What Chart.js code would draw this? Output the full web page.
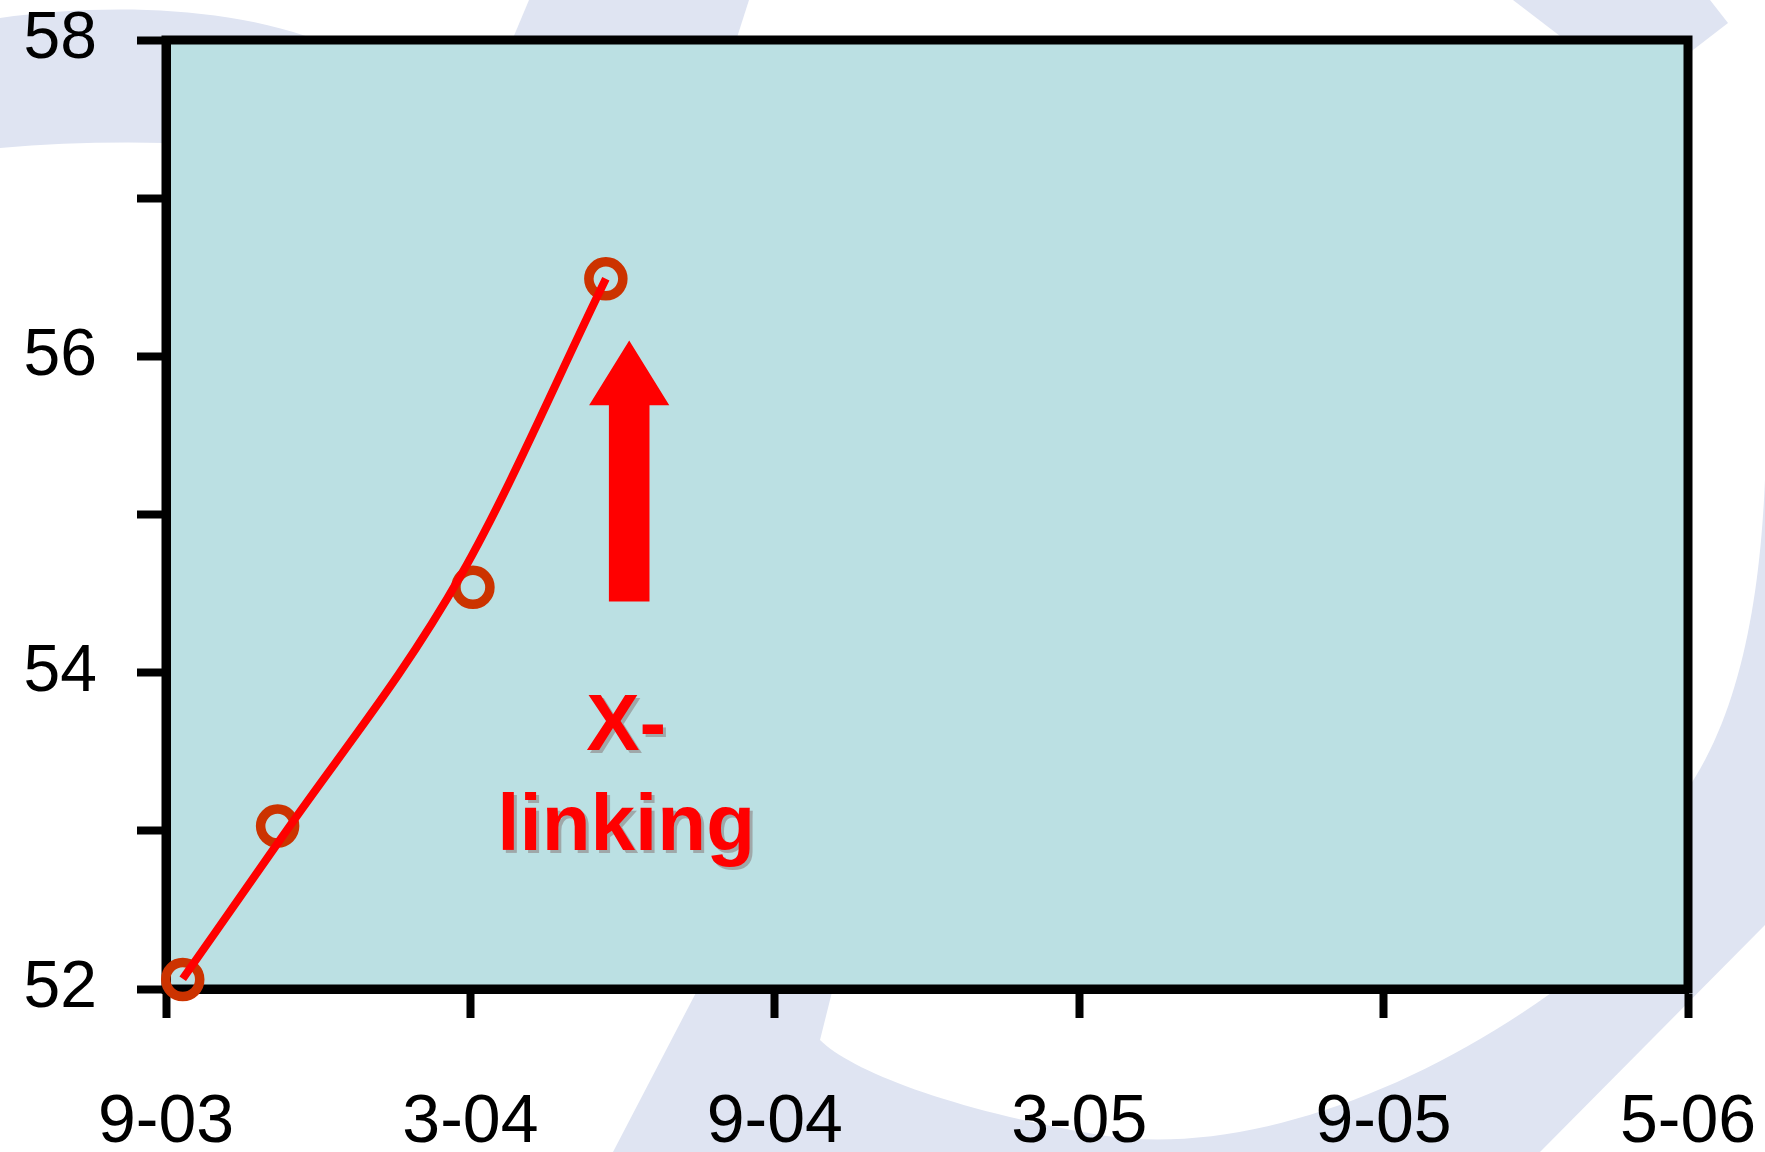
<!DOCTYPE html>
<html>
<head>
<meta charset="utf-8">
<script src="https://cdn.jsdelivr.net/npm/chart.js@4.4.1/dist/chart.umd.min.js"></script>
<style>
  html, body { margin: 0; padding: 0; background: #ffffff; overflow: hidden; }
  #wrap { width: 1765px; height: 1152px; position: relative; }
</style>
</head>
<body>
<div id="wrap"><canvas id="c" width="1765" height="1152"></canvas></div>
<script>
// Measured samples: months after September 2003, and the measured value
const sampleMonths = [0.33, 2.2, 6.05, 8.67];
const sampleValues = [52.06, 53.03, 54.54, 56.49];

// Smoothed trend curve drawn through the samples
const trendMonths = [0.33, 2.22, 5.82, 8.67];
const trendValues = [52.065, 52.93, 54.62, 56.49];

// Axis ticks
const xTickMonths = [0, 6, 12, 18, 24, 30];
const xTickLabels = ['9-03', '3-04', '9-04', '3-05', '9-05', '5-06'];
const yTickValues = [52, 54, 56, 58];

// Callout text
const calloutLines = ['X-', 'linking'];

const FONT = '"Liberation Sans", Arial, Helvetica, sans-serif';

// Callout placement, in axis units
const callout = {
  arrowMonth: 9.13, tip: 56.1, headBase: 55.69, tail: 54.45,
  headHalf: 0.79, shaftHalf: 0.40,
  textMonth: 9.07, baselines: [53.51, 52.88]
};

// Page backdrop: lavender swirl and the plot fill
const backdrop = {
  id: 'backdrop',
  beforeDraw(chart) {
    const ctx = chart.ctx;
    const W = chart.width, H = chart.height;
    const a = chart.chartArea;
    ctx.save();
    ctx.fillStyle = '#ffffff';
    ctx.fillRect(0, 0, W, H);
    ctx.fillStyle = '#dfe4f2';

    // upper-left arc
    ctx.beginPath();
    ctx.moveTo(0, 18);
    ctx.bezierCurveTo(100, 4, 230, 4, 330, 45);
    ctx.lineTo(330, 150);
    ctx.lineTo(166, 143);
    ctx.quadraticCurveTo(80, 141, 0, 148);
    ctx.closePath();
    ctx.fill();

    // band crossing the top edge
    ctx.beginPath();
    ctx.moveTo(529, 0);
    ctx.lineTo(749, 0);
    ctx.lineTo(733, 50);
    ctx.lineTo(508, 50);
    ctx.closePath();
    ctx.fill();

    // tip at the upper right
    ctx.beginPath();
    ctx.moveTo(1513, 0);
    ctx.lineTo(1710, 0);
    ctx.lineTo(1728, 23);
    ctx.lineTo(1680, 60);
    ctx.lineTo(1575, 60);
    ctx.lineTo(1560, 36);
    ctx.closePath();
    ctx.fill();

    // lower loop, wrapping under the plot and up the right side
    ctx.beginPath();
    ctx.moveTo(713, 960);
    ctx.lineTo(613, H);
    ctx.lineTo(1540, H);
    ctx.lineTo(W, 925);
    ctx.lineTo(W, 479);
    ctx.bezierCurveTo(1760, 600, 1740, 720, 1680, 800);
    ctx.lineTo(1600, 955);
    ctx.bezierCurveTo(1450, 1080, 1250, 1160, 1100, 1135);
    ctx.bezierCurveTo(950, 1110, 850, 1070, 820, 1040);
    ctx.lineTo(840, 960);
    ctx.closePath();
    ctx.fill();

    // plot area fill
    ctx.fillStyle = '#bbe0e3';
    ctx.fillRect(a.left, a.top, a.right - a.left, a.bottom - a.top);
    ctx.restore();
  }
};

// Closed frame round the plot area
const frame = {
  id: 'frame',
  beforeDatasetsDraw(chart) {
    const ctx = chart.ctx, a = chart.chartArea;
    ctx.save();
    ctx.strokeStyle = '#000000';
    ctx.lineWidth = 9;
    ctx.lineJoin = 'miter';
    ctx.strokeRect(a.left, a.top, a.right - a.left, a.bottom - a.top);
    ctx.restore();
  }
};

// Arrow and "X-linking" callout
const calloutPlugin = {
  id: 'callout',
  afterDatasetsDraw(chart) {
    const ctx = chart.ctx;
    const xs = chart.scales.x, ys = chart.scales.y;
    const cx = xs.getPixelForValue(callout.arrowMonth);
    const hh = xs.getPixelForValue(callout.arrowMonth + callout.headHalf) - cx;
    const sh = xs.getPixelForValue(callout.arrowMonth + callout.shaftHalf) - cx;
    const yTip = ys.getPixelForValue(callout.tip);
    const yBase = ys.getPixelForValue(callout.headBase);
    const yTail = ys.getPixelForValue(callout.tail);
    ctx.save();
    ctx.fillStyle = '#ff0000';
    ctx.beginPath();
    ctx.moveTo(cx, yTip);
    ctx.lineTo(cx + hh, yBase);
    ctx.lineTo(cx + sh, yBase);
    ctx.lineTo(cx + sh, yTail);
    ctx.lineTo(cx - sh, yTail);
    ctx.lineTo(cx - sh, yBase);
    ctx.lineTo(cx - hh, yBase);
    ctx.closePath();
    ctx.fill();

    const tx = xs.getPixelForValue(callout.textMonth);
    ctx.font = 'bold 80px ' + FONT;
    ctx.textAlign = 'center';
    ctx.textBaseline = 'alphabetic';
    ctx.shadowColor = 'rgba(150,150,150,0.75)';
    ctx.shadowOffsetX = 3;
    ctx.shadowOffsetY = 3;
    ctx.shadowBlur = 0;
    calloutLines.forEach((t, i) => {
      ctx.fillText(t, tx, ys.getPixelForValue(callout.baselines[i]));
    });
    ctx.restore();
  }
};

new Chart(document.getElementById('c'), {
  type: 'line',
  data: {
    datasets: [
      {
        label: 'trend',
        data: trendMonths.map((m, i) => ({ x: m, y: trendValues[i] })),
        borderColor: '#ff0000',
        borderWidth: 8,
        cubicInterpolationMode: 'monotone',
        pointRadius: 0,
        fill: false,
        clip: false
      },
      {
        label: 'samples',
        data: sampleMonths.map((m, i) => ({ x: m, y: sampleValues[i] })),
        showLine: false,
        pointStyle: 'circle',
        pointRadius: 17,
        pointBorderWidth: 9.5,
        pointBorderColor: '#cc3300',
        pointBackgroundColor: 'rgba(0,0,0,0)',
        clip: false
      }
    ]
  },
  options: {
    responsive: false,
    devicePixelRatio: 1,
    animation: false,
    events: [],
    layout: { padding: { top: 40, right: 77, left: 0, bottom: 0 } },
    plugins: { legend: { display: false }, tooltip: { enabled: false } },
    scales: {
      x: {
        type: 'linear',
        min: 0,
        max: 30,
        afterBuildTicks: s => { s.ticks = xTickMonths.map(v => ({ value: v })); },
        afterFit: s => { s.height = 163; s.paddingLeft = 0; s.paddingRight = 0; },
        border: { display: true, color: '#000000', width: 9 },
        grid: { display: true, drawOnChartArea: false, drawTicks: true, tickLength: 29, tickWidth: 8, tickColor: '#000000' },
        ticks: {
          autoSkip: false, maxRotation: 0, minRotation: 0,
          color: '#000000', padding: 64,
          font: { family: FONT, size: 68 },
          callback: v => { const i = xTickMonths.indexOf(v); return i >= 0 ? xTickLabels[i] : ''; }
        }
      },
      y: {
        type: 'linear',
        min: 52,
        max: 58,
        afterFit: s => { s.width = 166; s.paddingTop = 0; s.paddingBottom = 0; },
        border: { display: true, color: '#000000', width: 9 },
        grid: { display: true, drawOnChartArea: false, drawTicks: true, tickLength: 29, tickWidth: 8, tickColor: '#000000' },
        ticks: {
          stepSize: 1,
          color: '#000000', padding: 40,
          font: { family: FONT, size: 66 },
          callback: v => yTickValues.includes(v) ? String(v) : ''
        }
      }
    }
  },
  plugins: [backdrop, frame, calloutPlugin]
});
</script>
</body>
</html>
